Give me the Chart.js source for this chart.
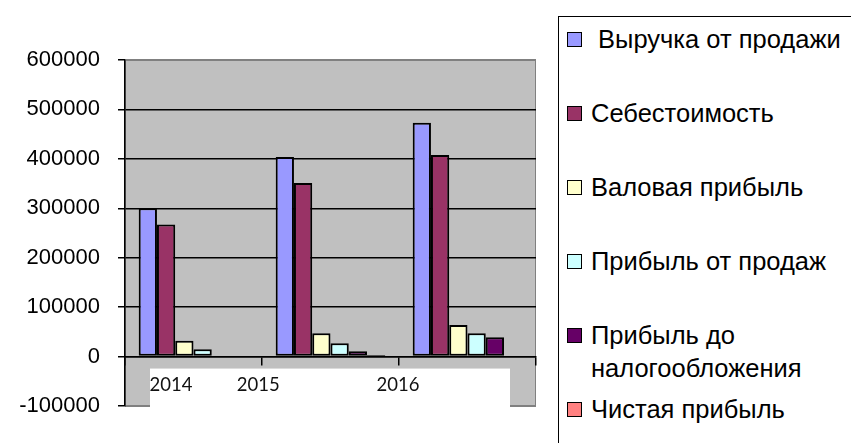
<!DOCTYPE html>
<html>
<head>
<meta charset="utf-8">
<script src="https://cdn.jsdelivr.net/npm/chart.js@4.4.0/dist/chart.umd.min.js"></script>
<style>
  html, body { margin: 0; padding: 0; background: #fff; }
  body { width: 851px; height: 443px; position: relative; overflow: hidden; }
  #area { position: absolute; left: 0; top: 0; width: 545px; height: 443px; }
  #legenda {
    position: absolute; left: 558px; top: 16px; width: 320px; height: 460px;
    border: 1px solid #000; box-sizing: border-box;
    font-family: "Liberation Sans", Arial, sans-serif; font-size: 25.5px; color: #000;
  }
  .quadrado { position: absolute; left: 8px; width: 13px; height: 13px; border: 1px solid #000; }
  .texto { position: absolute; left: 32px; width: 262px; line-height: 33px; white-space: pre-wrap; }
</style>
</head>
<body>
<div id="area"><canvas id="grafico"></canvas></div>
<div id="legenda"></div>
<script>
// Dados
const anos = ["2014", "2015", "2016"];
const nomesSeries = [" Выручка от продажи", "Себестоимость", "Валовая прибыль", "Прибыль от продаж", "Прибыль до налогообложения", "Чистая прибыль"];
const receita = [300000, 404000, 473000];
const custo = [267000, 351000, 408000];
const lucroBruto = [32000, 47000, 64000];
const lucroVendas = [15000, 27000, 47000];
const lucroAntesImposto = [0, 11000, 39000];
const lucroLiquido = [0, 3000, 0];
const valoresEixoY = [-100000, 0, 100000, 200000, 300000, 400000, 500000, 600000];
const cores = ["#9999FF", "#993366", "#FFFFCC", "#CCFFFF", "#660066", "#FF8080"];

const series = [receita, custo, lucroBruto, lucroVendas, lucroAntesImposto, lucroLiquido];

// Fundo cinza da área do gráfico
const fundoPlot = {
    id: "fundoPlot",
    beforeDraw(chart) {
        const { ctx, chartArea: a } = chart;
        ctx.save();
        ctx.fillStyle = "#C0C0C0";
        ctx.fillRect(a.left, a.top, a.right - a.left, a.bottom - a.top);
        ctx.strokeStyle = "#808080";
        ctx.lineWidth = 1;
        ctx.strokeRect(a.left + 0.5, a.top + 0.5, a.right - a.left - 1, a.bottom - a.top);
        ctx.restore();
    }
};

// Caixa branca com os anos (como no original)
const caixaAnos = {
    id: "caixaAnos",
    afterDraw(chart) {
        const { ctx, chartArea: a, scales } = chart;
        const zero = scales.y.getPixelForValue(0);
        const largura = a.right - a.left;
        ctx.save();
        ctx.fillStyle = "#fff";
        ctx.fillRect(a.left + 25, zero + 12, largura - 51, a.bottom - zero - 11);
        ctx.fillStyle = "#111";
        ctx.font = "18.5px Lato";
        ctx.textAlign = "center";
        ctx.textBaseline = "alphabetic";
        const posicoes = [0.112, 0.324, 0.664];
        anos.forEach((ano, i) => {
            ctx.fillText(ano, a.left + largura * posicoes[i], zero + 34);
        });
        ctx.restore();
    }
};

function criarGrafico() {
    Chart.defaults.font.family = "Liberation Sans";
    Chart.defaults.color = "#000";

    const ctx = document.getElementById("grafico").getContext("2d");

    const grafico = new Chart(ctx, {
        type: "bar",
        data: {
            labels: anos,
            datasets: series.map((valores, i) => ({
                label: nomesSeries[i],
                data: valores,
                backgroundColor: cores[i],
                borderColor: "#000",
                borderWidth: 2,
                borderSkipped: false,
                barPercentage: 1,
                categoryPercentage: 0.8,
            })),
        },
        options: {
            responsive: true,
            maintainAspectRatio: false,
            animation: false,
            layout: { padding: { left: 0, top: 60, right: 9, bottom: 37 } },
            plugins: {
                legend: { display: false },
                tooltip: { enabled: false },
            },
            scales: {
                x: {
                    position: { y: 0 },
                    offset: true,
                    grid: { drawOnChartArea: false, drawTicks: true, tickLength: 8, color: "#000", lineWidth: 1.5, offset: true },
                    border: { color: "#000", width: 1.5 },
                    ticks: { display: false },
                },
                y: {
                    min: -100000,
                    max: 600000,
                    afterBuildTicks: s => { s.ticks = valoresEixoY.map(v => ({ value: v })); },
                    afterFit: s => { s.width = 125; },
                    grid: {
                        color: c => (c.tick && (c.tick.value === 600000 || c.tick.value === -100000)) ? "#808080" : "#000",
                        tickColor: "#000",
                        tickLength: 7,
                        lineWidth: 1.5,
                    },
                    border: { color: "#000", width: 1.5 },
                    ticks: {
                        font: { size: 22 },
                        padding: 18,
                        color: "#000",
                        callback: v => String(v),
                    },
                },
            },
        },
        plugins: [fundoPlot, caixaAnos],
    });

    criarLegenda(grafico);
}

// Legenda em HTML, montada a partir dos datasets
function criarLegenda(grafico) {
    const caixa = document.getElementById("legenda");
    grafico.data.datasets.forEach((ds, i) => {
        const centro = 39.5 + i * 74 - 17;
        const q = document.createElement("div");
        q.className = "quadrado";
        q.style.top = (centro - 7.5) + "px";
        q.style.background = ds.backgroundColor;
        const t = document.createElement("div");
        t.className = "texto";
        t.style.top = (centro - 16.5) + "px";
        t.textContent = ds.label;
        caixa.appendChild(q);
        caixa.appendChild(t);
    });
}

criarGrafico();
</script>
</body>
</html>
